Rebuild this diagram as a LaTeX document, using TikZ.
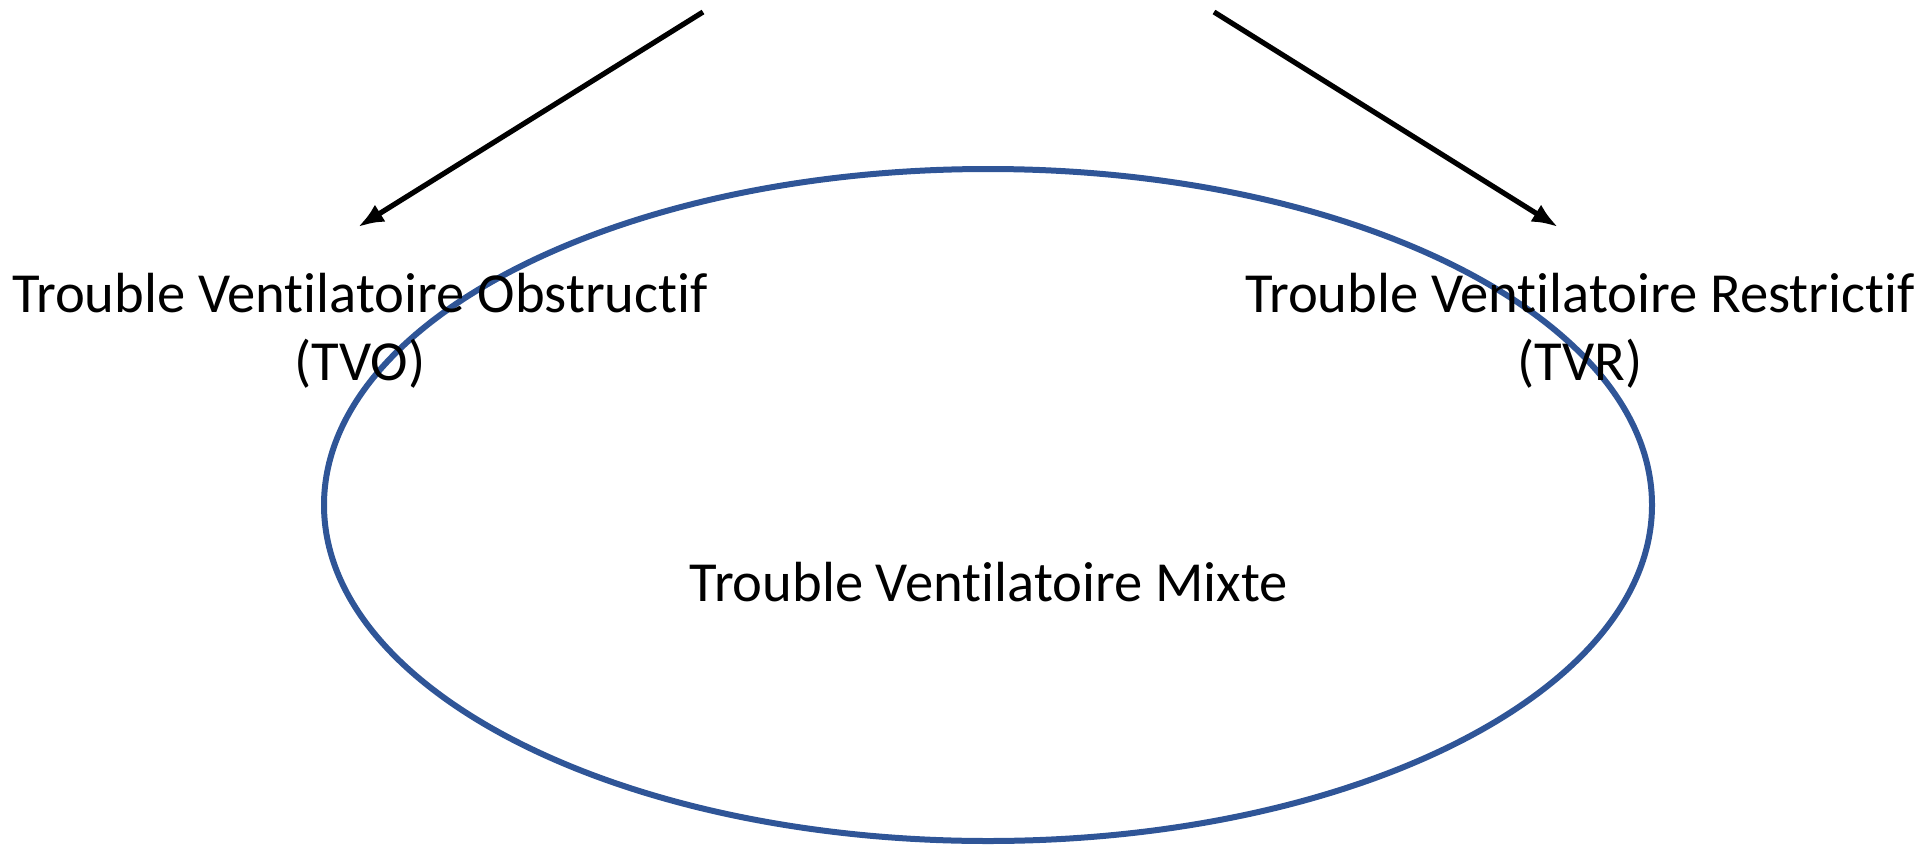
\documentclass[tikz,border=0pt]{standalone}
\usepackage{fontspec}
\setmainfont{Carlito}[RawFeature={-liga;-clig;-calt;-dlig}]
\usepackage{tikz}
\usetikzlibrary{arrows.meta,positioning,calc}
\definecolor{ringblue}{HTML}{2F5597}
\tikzset{
  label text/.style={align=center, inner sep=0pt, font=\fontsize{56.6}{68}\selectfont},
  arrow/.style={-{Latex[length=26pt,width=20pt]}, line width=5.2pt, black},
  ring/.style={draw=ringblue, line width=6pt}
}

\begin{document}
\begin{tikzpicture}[x=1pt, y=-1pt]
\useasboundingbox (0,0) rectangle (1932,846);
\coordinate (centre) at (988,505);
\draw[ring] (centre) ellipse [x radius=664, y radius=336];
\node[label text, anchor=base] (tvo) at (360,380) {Trouble Ventilatoire Obstructif\\(TVO)};
\node[label text, anchor=base] (tvr) at (1580,380) {Trouble Ventilatoire Restrictif\\(TVR)};
\node[label text, anchor=base] (tvm) at (989,601) {Trouble Ventilatoire Mixte};
\coordinate (ltop) at (703,12);
\coordinate (rtop) at (1214,12);
\coordinate (ltip) at (358,227);
\coordinate (rtip) at (1558,227);
\draw[arrow] (ltop) -- (ltip);
\draw[arrow] (rtop) -- (rtip);
\end{tikzpicture}
\end{document}
